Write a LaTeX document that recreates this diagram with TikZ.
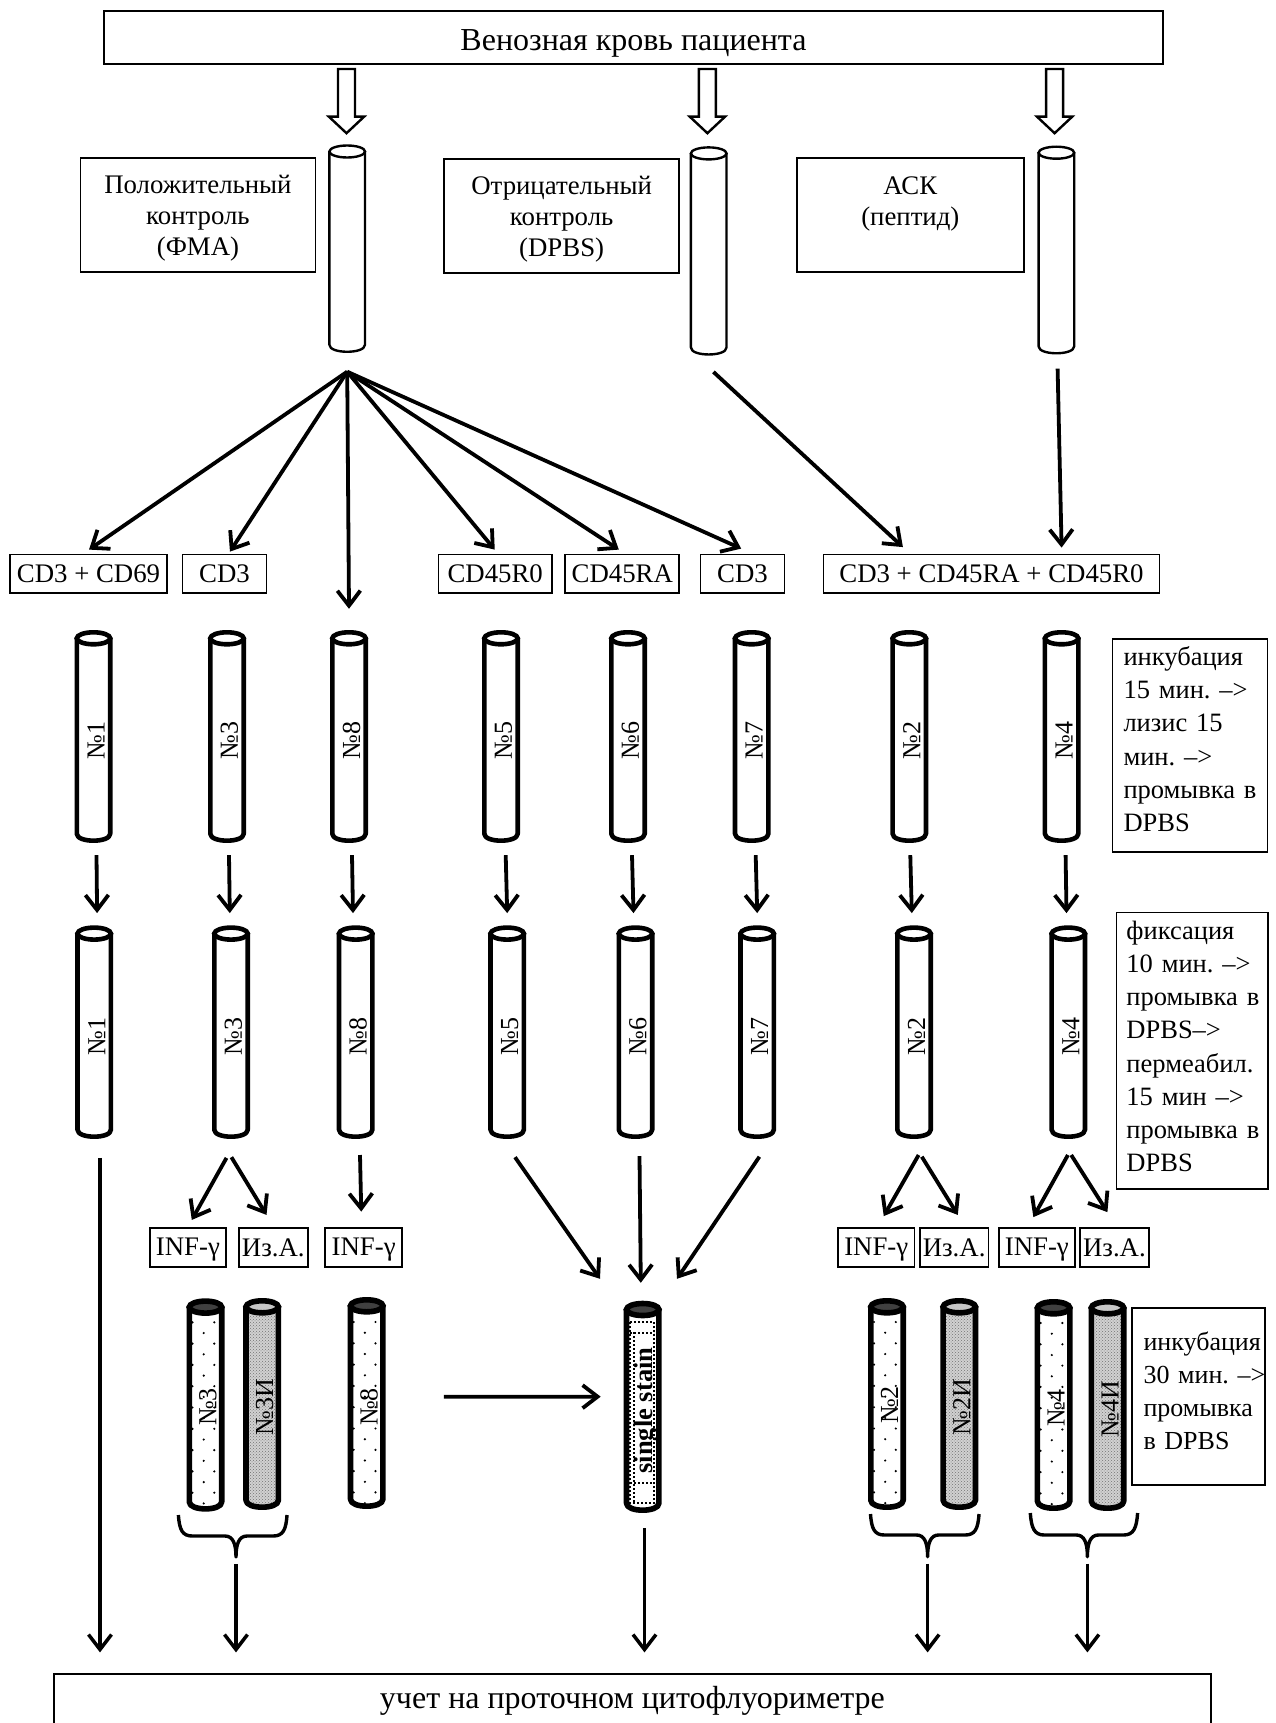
\documentclass[tikz,border=0pt]{standalone}
\usepackage{fontspec}
\setmainfont{Liberation Serif}
\usetikzlibrary{arrows.meta,patterns}
\AtBeginDocument{\frenchspacing}
\definecolor{capdark}{gray}{0.25}
\definecolor{caplight}{gray}{0.78}
\definecolor{hatchbase}{gray}{0.82}
\definecolor{hatchdot}{gray}{0.45}
\tikzset{
  arr/.style={line width=3.8pt,-{Straight Barb[length=15pt,width=23pt]}},
  arrthin/.style={line width=3.5pt,-{Straight Barb[length=15pt,width=23pt]}},
  hollowarr/.style={draw=black,line width=2.4pt,fill=white,line join=miter},
  tbox/.style={draw=black,line width=1.8pt,fill=white,inner sep=0pt,align=center,font=\fontsize{26.8}{31}\selectfont},
  notebox/.style={tbox,align=left,font=\fontsize{26.5}{33.2}\selectfont},
  tubearea/.style={inner sep=0pt,minimum width=38pt},
  tubelab/.style={rotate=90,inner sep=0pt,font=\fontsize{26}{26}\selectfont},
  bracketline/.style={line width=3.4pt,line join=round,line cap=butt},
  clear/.style={fill=white},
  hatched/.style={preaction={fill=hatchbase},pattern=crosshatch dots,pattern color=hatchdot},
  dotline/.style={line width=1.8pt,dash pattern=on 1.8pt off 2.2pt},
}
\newcommand{\bx}[7]{\node[tbox,minimum width={#4-#2},minimum height={#5-#3},#6] (#1) at ({(#2+#4)/2},{(#3+#5)/2}) {#7};}
\newcommand{\tube}[9]{%
  \node[tubearea,minimum height={#4-#3}] (#1) at (#2,{(#3+#4)/2}) {};
  \path[draw=black,line width=#5pt,line join=round,#6]
    ({#2-19+#5/2},{#3+#5/2+6}) -- ({#2-19+#5/2},{#4-#5/2-7})
    .. controls ({#2-19+#5/2},{#4-#5/2+2.3}) and ({#2+19-#5/2},{#4-#5/2+2.3}) .. ({#2+19-#5/2},{#4-#5/2-7})
    -- ({#2+19-#5/2},{#3+#5/2+6}) -- cycle;
  \path[draw=black,line width=#5pt,fill=#7] (#2,{#3+#5/2+6}) ellipse [x radius={19-#5/2},y radius=6];
  \node[tubelab] (#1lab) at ({#2+2.5},{(#3+#4)/2+#9}) {#8};
}
\newcommand{\tubedots}[2]{%
  \foreach \k in {0,...,8}{
    \fill ({#1-13},{#2+21.3*\k}) circle (1.2pt);
    \fill ({#1+8.8},{#2+21.3*\k}) circle (1.2pt);
    \fill ({#1-1.8},{#2+10.7+21.3*\k}) circle (1.2pt);
  }}
\newcommand{\hollow}[1]{%
  \path[hollowarr] ({#1-8.5},69) -- ({#1+8.5},69) -- ({#1+8.5},116.6) -- ({#1+17.7},116.6) -- (#1,133.2) -- ({#1-17.7},116.6) -- ({#1-8.5},116.6) -- cycle;}
\newcommand{\bracketshape}[7]{%
  \draw[bracketline] (#2,#5) .. controls ({#2+1},{#5+15}) and ({#2+4},#6) .. ({#2+14},#6) -- ({#3-11},#6) .. controls ({#3-3},#6) and (#3,{#6+8}) .. (#3,#7)
    .. controls (#3,{#6+8}) and ({#3+3},#6) .. ({#3+11},#6) -- ({#4-14},#6) .. controls ({#4-4},#6) and ({#4-1},{#5+15}) .. (#4,#5);
  \coordinate (#1) at (#3,#7);}
\newcommand{\up}[1]{\rule{0pt}{#1pt}}
\newcommand{\down}[1]{\rule[-#1pt]{0pt}{#1pt}}
\begin{document}
\begin{tikzpicture}[x=1pt,y=-1pt]
\useasboundingbox (0,0) rectangle (1275,1723);
\clip (0,0) rectangle (1275,1723);
\fill[white] (0,0) rectangle (1275,1723);

\bx{top}{104}{11}{1163}{64.4}{font=\fontsize{32}{34}\selectfont}{\up{32}Венозная кровь пациента}
\hollow{346.5}\hollow{707.4}\hollow{1054.6}

\tube{tp}{347.2}{144.3}{353}{2.4}{clear}{white}{}{0}
\tube{tn}{708.7}{146.2}{355.7}{2.4}{clear}{white}{}{0}
\tube{ta}{1056.4}{145.5}{354.5}{2.4}{clear}{white}{}{0}
\bx{lp}{80.4}{158}{315.5}{272}{}{\up{24}Положительный\\контроль\\(ФМА)}
\bx{ln}{444}{159.3}{679.3}{272.7}{}{\up{24}Отрицательный\\контроль\\(DPBS)}
\bx{la}{796.7}{158}{1023.9}{272}{}{\up{31}АСК\\(пептид)\\\strut}

\bx{b1}{9.8}{554.5}{167.3}{593}{}{CD3 + CD69}
\bx{b3}{182.4}{554.5}{266.5}{593}{}{CD3}
\bx{b5}{438.4}{554.5}{552}{593}{}{CD45R0}
\bx{b6}{565.3}{554.5}{679.3}{593}{}{CD45RA}
\bx{b7}{700.5}{554.5}{784.5}{593}{}{CD3}
\bx{b24}{823.5}{554.5}{1159.5}{593}{}{CD3 + CD45RA + CD45R0}

\foreach \n/\c/\t in {1/93.5/№1,3/227/№3,8/349/№8,5/501/№5,6/628/№6,7/751.7/№7,2/909.3/№2,4/1061.6/№4}{
  \tube{ra\n}{\c}{630}{843}{4.6}{clear}{white}{\t}{4}
}
\foreach \n/\c/\t in {1/94.2/№1,3/231/№3,8/355.7/№8,5/507.2/№5,6/635.5/№6,7/757.2/№7,2/914/№2,4/1068.3/№4}{
  \tube{rb\n}{\c}{925.3}{1139}{4.6}{clear}{white}{\t}{4}
}

\node[notebox,minimum width=155.1pt,minimum height=213pt,text width=133pt] (n1) at (1190,745.5) {\mbox{инкубация}\\\mbox{15 мин. –>}\\лизис~15\\\mbox{мин. –>}\\\mbox{промывка в}\\DPBS\down{13}};
\node[notebox,minimum width=151.5pt,minimum height=276.5pt,text width=131.5pt] (n2) at (1192.2,1050.7) {\mbox{фиксация}\\\mbox{10 мин. –>}\\\mbox{промывка в}\\\mbox{DPBS–>}\\\mbox{пермеабил.}\\\mbox{15 мин –>}\\\mbox{промывка в}\\DPBS\down{9}};

\bx{i3a}{149.8}{1228.3}{226}{1267.3}{}{\up{22}INF-γ}
\bx{i3b}{238.8}{1228.3}{307.8}{1267.3}{}{Из.А.}
\bx{i8}{325.3}{1228.3}{402}{1267.3}{}{\up{22}INF-γ}
\bx{i2a}{838}{1228.3}{914.5}{1267.3}{}{\up{22}INF-γ}
\bx{i2b}{919.7}{1228.3}{988.5}{1267.3}{}{Из.А.}
\bx{i4a}{998.7}{1228.3}{1075}{1267.3}{}{\up{22}INF-γ}
\bx{i4b}{1080}{1228.3}{1148.8}{1267.3}{}{Из.А.}

\tube{c3}{205.5}{1298.3}{1511.7}{5.6}{clear}{capdark}{№3}{2}
\tubedots{205.5}{1322.3}
\tube{c3i}{262.2}{1298}{1510}{5.6}{hatched}{caplight}{№3И}{3}
\tube{c8}{366.7}{1297}{1509}{5.6}{clear}{capdark}{№8}{4}
\tubedots{366.7}{1322}
\tube{c2}{887}{1298}{1510}{5.6}{clear}{capdark}{№2}{1}
\tubedots{887}{1322}
\tube{c2i}{959.3}{1298}{1510}{5.6}{hatched}{caplight}{№2И}{3}
\tube{c4}{1053.6}{1299}{1511}{5.6}{clear}{capdark}{№4}{3}
\tubedots{1053.6}{1323}
\tube{c4i}{1107.5}{1299}{1511}{5.6}{hatched}{caplight}{№4И}{4}

\tube{ss}{642.7}{1300.7}{1513}{5.6}{clear}{capdark}{}{0}
\draw[dotline] (630,1322) rectangle (654,1503);
\draw[dotline] (630,1332.7) -- (654,1332.7);
\draw[dotline] (630,1482.7) -- (654,1482.7);
\draw[dotline] (634,1332) -- (634,1503);
\node[rotate=90,inner sep=0pt,font=\bfseries\fontsize{26.5}{26.5}\selectfont] (sslab) at (646.5,1410.5) {single stain};

\node[notebox,font=\fontsize{26}{33}\selectfont,minimum width=133pt,minimum height=177pt,text width=110pt] (n3) at (1198.5,1396.7) {\mbox{инкубация}\\\mbox{30 мин. –>}\\промывка\\\mbox{в DPBS}\down{12}};

\bracketshape{br3}{178.4}{236}{287}{1515}{1536}{1557}
\bracketshape{br2}{870.5}{927.6}{979}{1514}{1535}{1556.7}
\bracketshape{br4}{1030.3}{1087.4}{1137.6}{1513}{1535}{1556.7}

\bx{bot}{53.9}{1674.3}{1211}{1727}{font=\fontsize{32}{34}\selectfont}{учет на проточном цитофлуориметре}

\coordinate (fan) at ([yshift=-18.5]tp.south);
\draw[arr] (fan) -- ([xshift=.5,yshift=4]b1.north);
\draw[arr] (fan) -- ([xshift=5.5,yshift=2]b3.north);
\draw[arr] (fan) -- ([yshift=21]ra8.north);
\draw[arr] (fan) -- ([xshift=-.5,yshift=4]b5.north);
\draw[arr] (fan) -- ([xshift=-3.5,yshift=4]b6.north);
\draw[arr] (fan) -- ([xshift=-1.3,yshift=5]b7.north);
\draw[arr] ([xshift=4.7,yshift=-16]tn.south) -- ([xshift=-88.6,yshift=6.5]b24.north);
\draw[arr] ([xshift=1.2,yshift=-14]ta.south) -- ([xshift=70.1,yshift=6]b24.north);

\foreach \n/\s/\e in {1/3/2.9,3/2/-1.2,8/3/-2.7,5/4.7/0,6/4/-2,7/4/0,2/1/-2.2,4/4/-1.8}{
  \draw[arr] ([xshift=\s,yshift=-12]ra\n.south) -- ([xshift=\e,yshift=12]rb\n.north);
}

\draw[arr] ([xshift=-4.5,yshift=-18.7]rb3.south) -- ([xshift=3.9,yshift=7.5]i3a.north);
\draw[arr] ([xshift=.4,yshift=-18]rb3.south) -- ([xshift=-6.8,yshift=12.5]i3b.north);
\draw[arr] ([xshift=4.3,yshift=-15.8]rb8.south) -- ([xshift=-2.4,yshift=15.8]i8.north);
\draw[arr] ([xshift=4.6,yshift=-15.8]rb2.south) -- ([xshift=7.5,yshift=11.3]i2a.north);
\draw[arr] ([xshift=7.8,yshift=-17.5]rb2.south) -- ([xshift=3.7,yshift=12.5]i2b.north);
\draw[arr] ([xshift=-.4,yshift=-15.8]rb4.south) -- ([xshift=-3.5,yshift=10.3]i4a.north);
\draw[arr] ([xshift=2.9,yshift=-15.8]rb4.south) -- ([xshift=-7,yshift=15.3]i4b.north);

\draw[arr] ([xshift=7.8,yshift=-18]rb5.south) -- ([xshift=-42.7,yshift=21.7]ss.north);
\draw[arr] ([xshift=4,yshift=-17]rb6.south) -- ([xshift=-1.9,yshift=17.7]ss.north);
\draw[arr] ([xshift=2.2,yshift=-17.5]rb7.south) -- ([xshift=34.3,yshift=21.7]ss.north);
\draw[arr] ([xshift=58,yshift=6.3]c8.east) -- ([xshift=-22.8,yshift=10.2]ss.west);

\coordinate (s1) at ([xshift=5.8,yshift=-18.7]rb1.south);
\draw[arrthin] (s1) -- ([yshift=21]s1 |- bot.north);
\draw[arrthin] ([yshift=-7]br3) -- ([yshift=21]br3 |- bot.north);
\coordinate (s6) at ([xshift=1.8,yshift=-15]ss.south);
\draw[arrthin] (s6) -- ([yshift=21]s6 |- bot.north);
\draw[arrthin] ([yshift=-7]br2) -- ([yshift=21]br2 |- bot.north);
\draw[arrthin] ([yshift=-7]br4) -- ([yshift=21]br4 |- bot.north);
\end{tikzpicture}
\end{document}
